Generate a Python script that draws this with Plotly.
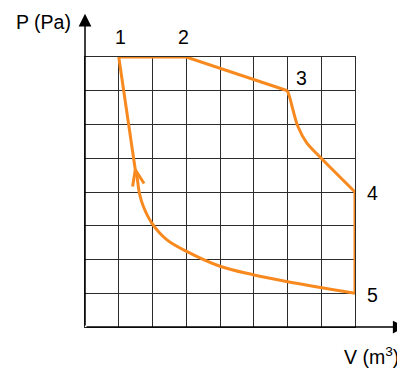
import plotly.graph_objects as go

# state points of the cycle (grid units)
state_labels = ['1', '2', '3', '4', '5']
state_v = [1, 3, 6, 8, 8]
state_p = [8, 8, 7, 4, 1]

# 1 -> 2 -> 3 (straight pieces)
top_v = [1, 3, 6]
top_p = [8, 8, 7]

# 3 -> 4 (curved drop)
drop_v = [6, 6.08, 6.16, 6.31, 6.56, 6.95, 8]
drop_p = [7, 6.75, 6.44, 5.94, 5.47, 5.05, 4]

# 4 -> 5 (isochoric)
side_v = [8, 8]
side_p = [4, 1]

# 5 -> 1 (return curve)
back_v = [8, 5.97, 4.98, 4.0, 3.01, 2.42, 1.98, 1.73, 1.61, 1.54, 1.49]
back_p = [1, 1.35, 1.55, 1.8, 2.24, 2.59, 3.08, 3.57, 3.97, 4.46, 4.66]
up_v = [1.49, 1]
up_p = [4.66, 8]

# open arrow head on the return curve
arrow_v = [1.41, 1.49, 1.75]
arrow_p = [4.16, 4.66, 4.25]

V_MAX = 8
P_MAX = 8

orange = '#F7891F'
font = dict(family='Liberation Sans, Arial, sans-serif', size=19.5, color='black')

fig = go.Figure()
for xs, ys, shape in [(top_v, top_p, 'linear'), (drop_v, drop_p, 'spline'),
                      (side_v, side_p, 'linear'), (back_v, back_p, 'spline'),
                      (up_v, up_p, 'linear'), (arrow_v, arrow_p, 'linear')]:
    fig.add_trace(go.Scatter(x=xs, y=ys, mode='lines',
                             line=dict(color=orange, width=3, shape=shape),
                             showlegend=False, hoverinfo='skip'))


def label(v, p, text):
    # paper coords span the plot area, so scale grid units by the axis range
    fig.add_annotation(x=v / V_MAX, y=p / P_MAX, xref='paper', yref='paper',
                       xanchor='center', yanchor='middle',
                       text=text, showarrow=False, font=font)


# state labels, offset from each point; axis titles
offsets = [(0.04, 0.59), (-0.07, 0.59), (0.42, 0.37), (0.52, -0.04), (0.52, -0.05)]
for lab, v, p, (dx, dy) in zip(state_labels, state_v, state_p, offsets):
    label(v + dx, p + dy, lab)
label(-1.24, 9.04, 'P (Pa)')
label(8.48, -0.86, 'V (m<sup>3</sup>)')

# axes with arrows
for tip_x, tip_y in [(9.5, 0), (0, 9.28)]:
    fig.add_annotation(x=tip_x, y=tip_y, ax=0, ay=0, xref='x', yref='y',
                       axref='x', ayref='y', text='', showarrow=True,
                       arrowhead=2, arrowsize=1.7, arrowwidth=1.5,
                       arrowcolor='black', standoff=0, startstandoff=0)

grid = '#2b2b2b'
axis = dict(dtick=1, tick0=0, showgrid=True, gridcolor=grid,
            gridwidth=1, zeroline=False, showline=True, linecolor=grid,
            linewidth=1, mirror=True, showticklabels=False, ticks='')
fig.update_layout(
    width=397, height=360,
    margin=dict(l=77, r=50, t=49, b=41),
    plot_bgcolor='white', paper_bgcolor='white',
    xaxis=dict(axis, range=[0, V_MAX]), yaxis=dict(axis, range=[0, P_MAX]),
)
fig.write_html('out.html')
